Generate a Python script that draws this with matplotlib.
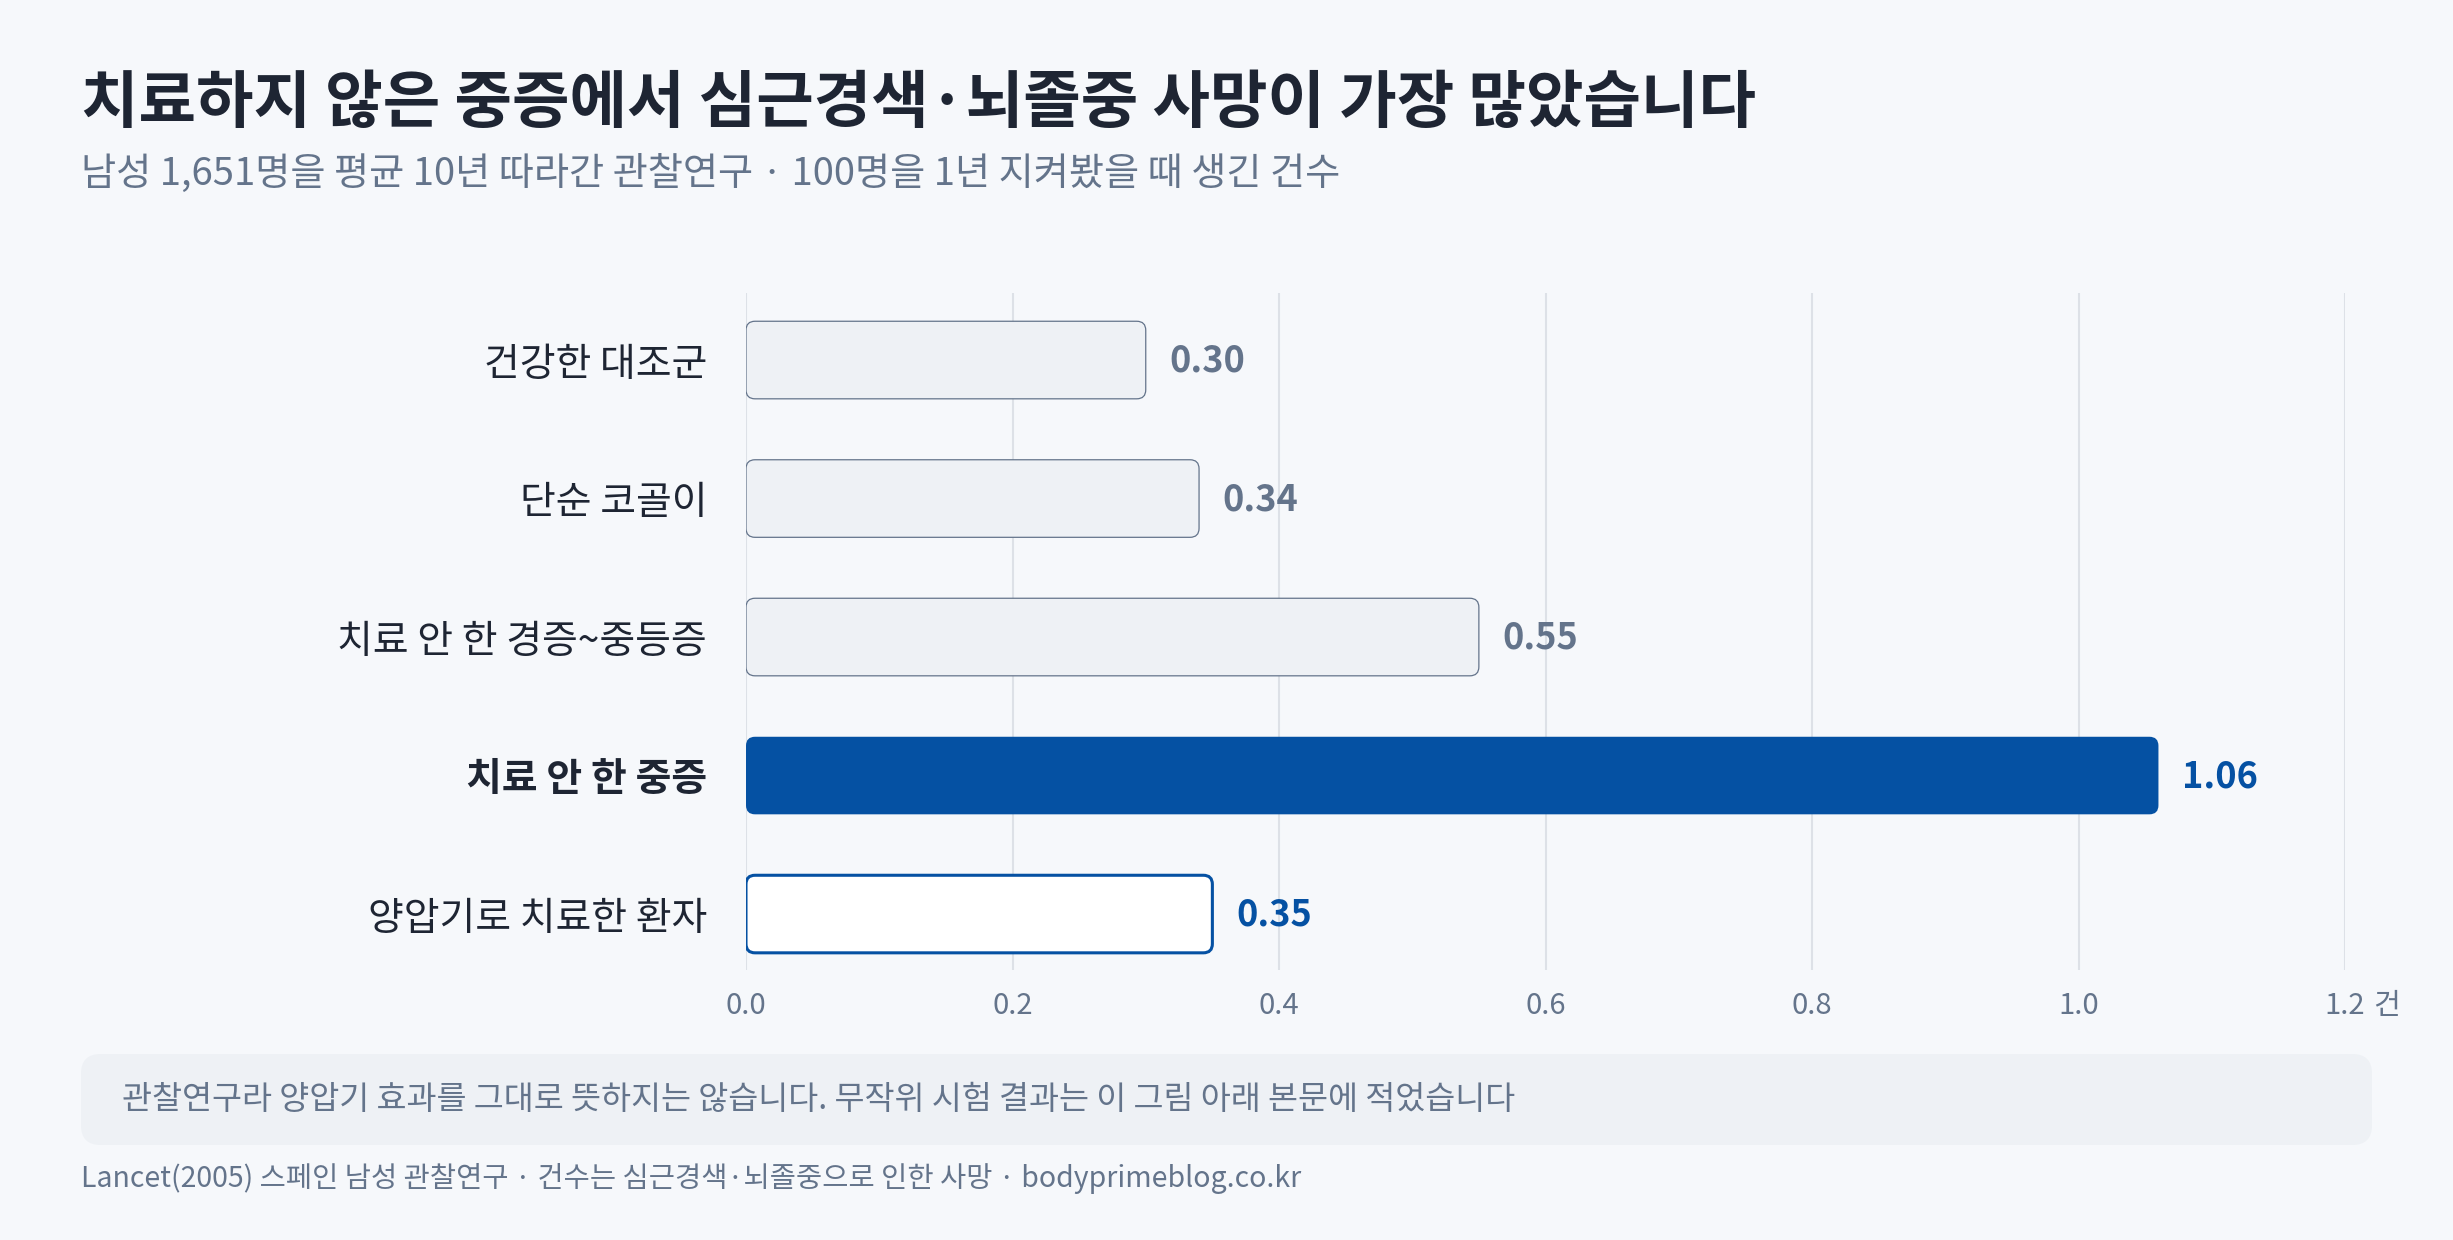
import matplotlib
matplotlib.use("Agg")
import matplotlib.pyplot as plt
from matplotlib.patches import FancyBboxPatch

plt.rcParams["font.family"] = ["Noto Sans CJK KR", "DejaVu Sans"]

# data
categories = ["건강한 대조군", "단순 코골이", "치료 안 한 경증~중등증", "치료 안 한 중증", "양압기로 치료한 환자"]
values = [0.30, 0.34, 0.55, 1.06, 0.35]
value_labels = ["0.30", "0.34", "0.55", "1.06", "0.35"]
x_ticks = [0.0, 0.2, 0.4, 0.6, 0.8, 1.0, 1.2]
x_tick_labels = ["0.0", "0.2", "0.4", "0.6", "0.8", "1.0", "1.2"]

title = "치료하지 않은 중증에서 심근경색·뇌졸중 사망이 가장 많았습니다"
subtitle = "남성 1,651명을 평균 10년 따라간 관찰연구 · 100명을 1년 지켜봤을 때 생긴 건수"
note = "관찰연구라 양압기 효과를 그대로 뜻하지는 않습니다. 무작위 시험 결과는 이 그림 아래 본문에 적었습니다"
source = "Lancet(2005) 스페인 남성 관찰연구 · 건수는 심근경색·뇌졸중으로 인한 사망 · bodyprimeblog.co.kr"

BG = "#f6f8fb"
DARK = "#1e2533"
GREY = "#64748b"
BLUE = "#0551a3"
LIGHT = "#eef1f5"
GRID = "#dde1e7"

fill_colors = [LIGHT, LIGHT, LIGHT, BLUE, "white"]
edge_colors = [GREY, GREY, GREY, BLUE, BLUE]
edge_widths = [0.9, 0.9, 0.9, 0.0, 2.2]
label_colors = [GREY, GREY, GREY, BLUE, BLUE]

W, H = 2453, 1240
fig = plt.figure(figsize=(W / 100, H / 100), dpi=100)
fig.patch.set_facecolor(BG)

ax = fig.add_axes([746 / W, 270 / H, 1599 / W, 677 / H])
ax.set_facecolor(BG)

y = list(range(len(categories)))
bar_h = 0.56
ax.set_xlim(0, 1.2)
ax.set_ylim(4.404, -0.484)

for xt in x_ticks:
    ax.axvline(xt, color=GRID, lw=1.5, zorder=0)

bars = ax.barh(y, values, height=bar_h)

# px per data unit, used to keep corner radius round
px_x = 1599 / 1.2
px_y = 677 / (4.404 + 0.484)
radius_px = 9
for i, b in enumerate(bars):
    x0, y0 = b.get_x(), b.get_y()
    w, h = b.get_width(), b.get_height()
    b.remove()
    patch = FancyBboxPatch(
        (x0, y0), w, h,
        boxstyle=f"round,pad=0,rounding_size={radius_px / px_x}",
        mutation_aspect=px_x / px_y,
        facecolor=fill_colors[i],
        edgecolor=edge_colors[i],
        linewidth=edge_widths[i],
        zorder=3,
    )
    ax.add_patch(patch)
    ax.annotate(value_labels[i], xy=(values[i], i), xytext=(17, -1),
                textcoords="offset points", ha="left", va="center",
                fontsize=26, fontweight="bold", color=label_colors[i])

ax.set_yticks(y)
ax.set_yticklabels(categories, fontsize=28, color=DARK)
ax.get_yticklabels()[3].set_fontweight("bold")
ax.set_xticks(x_ticks)
ax.set_xticklabels(x_tick_labels, fontsize=21, color=GREY)
ax.tick_params(axis="y", length=0, pad=28)
ax.tick_params(axis="x", length=0, pad=15)
for s in ax.spines.values():
    s.set_visible(False)

ax.annotate("건", xy=(1.2, 0), xycoords=("data", "axes fraction"),
            xytext=(20, -15), textcoords="offset points",
            ha="left", va="top", fontsize=21, color=GREY)

fig.text(81 / W, 1 - 104 / H, title, fontsize=45, fontweight="bold",
         color=DARK, ha="left", va="center")
fig.text(81 / W, 1 - 174 / H, subtitle, fontsize=27.5, color=GREY,
         ha="left", va="center")

box = FancyBboxPatch((81 / W, 1 - 1145 / H), (2372 - 81) / W, 91 / H,
                     boxstyle="round,pad=0,rounding_size=0.008",
                     mutation_aspect=W / H,
                     transform=fig.transFigure, facecolor=LIGHT,
                     edgecolor="none")
fig.patches.append(box)
fig.text(122 / W, 1 - 1100 / H, note, fontsize=23.5, color=GREY,
         ha="left", va="center")
fig.text(81 / W, 1 - 1178 / H, source, fontsize=20.5, color=GREY,
         ha="left", va="center")

fig.savefig("out.png", dpi=100, facecolor=BG)
